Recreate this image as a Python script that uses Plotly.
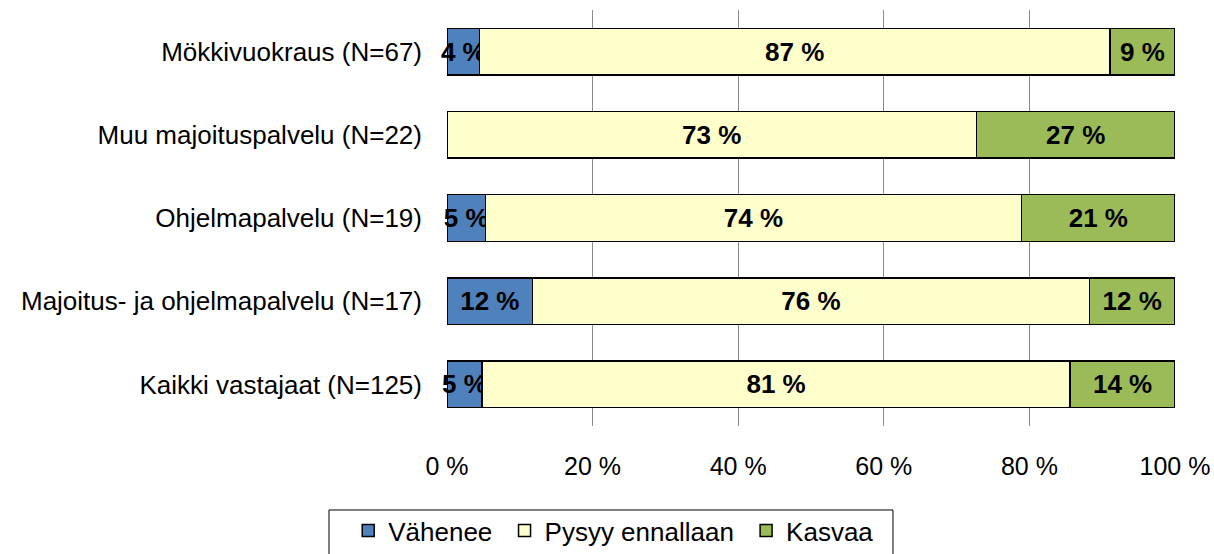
import plotly.graph_objects as go

categories = ["Mökkivuokraus (N=67)", "Muu majoituspalvelu (N=22)", "Ohjelmapalvelu (N=19)",
              "Majoitus- ja ohjelmapalvelu (N=17)", "Kaikki vastajaat (N=125)"]
vahenee = [4.48, 0.0, 5.26, 11.76, 4.8]
pysyy = [86.57, 72.73, 73.68, 76.47, 80.8]
kasvaa = [8.95, 27.27, 21.05, 11.76, 14.4]
series_names = ["Vähenee\u00a0", "Pysyy ennallaan\u00a0", "Kasvaa"]
tick_vals = [0, 20, 40, 60, 80, 100]
tick_text = ["0 %", "20 %", "40 %", "60 %", "80 %", "100 %"]

FONT = "Liberation Sans, Arial, sans-serif"
FS = 26

def labels(vals):
    return ["" if v == 0 else f"{round(v):.0f} %" for v in vals]

fig = go.Figure()
colors = ["#4F81BD", "#FFFFCC", "#9BBB59"]
for name, vals, col in zip(series_names, [vahenee, pysyy, kasvaa], colors):
    fig.add_trace(go.Bar(
        y=categories, x=vals, name=name, orientation="h",
        marker=dict(color=col, line=dict(color="black", width=1.5)),
        text=labels(vals), textposition="inside", insidetextanchor="middle",
        textangle=0, constraintext="none", cliponaxis=False,
        textfont=dict(family=FONT, size=FS, color="black", weight="bold"),
        width=0.56, hoverinfo="skip",
    ))

# legend frame
fig.add_shape(type="rect", xref="paper", yref="paper",
              x0=-0.1621, x1=0.6126, y0=-0.40, y1=-0.2019,
              line=dict(color="black", width=1), fillcolor="rgba(0,0,0,0)")

fig.update_layout(
    barmode="stack",
    width=1214, height=554,
    margin=dict(l=447, r=39, t=10, b=128, autoexpand=False),
    plot_bgcolor="white", paper_bgcolor="white",
    font=dict(family=FONT, size=FS, color="black"),
    uniformtext=dict(mode="show", minsize=FS),
    showlegend=True,
    legend=dict(orientation="h", x=0.229, xanchor="center",
                yref="container", y=0, yanchor="bottom",
                borderwidth=0, font=dict(size=FS), bgcolor="rgba(0,0,0,0)",
                traceorder="normal", itemwidth=30),
    xaxis=dict(range=[0, 100], tickvals=tick_vals, ticktext=tick_text,
               showgrid=True, gridcolor="#8C8C8C", gridwidth=1,
               zeroline=False, showline=False, ticks="", ticklen=0,
               automargin=False,
               ticklabelstandoff=23, tickfont=dict(size=25)),
    yaxis=dict(autorange="reversed", showgrid=False, ticks="",
               automargin=False,
               ticklabelstandoff=24, tickfont=dict(size=FS)),
)

fig.write_html("out.html",
               config={"displayModeBar": False},
               post_script="document.body.style.margin='0px';document.body.style.overflow='hidden';")
